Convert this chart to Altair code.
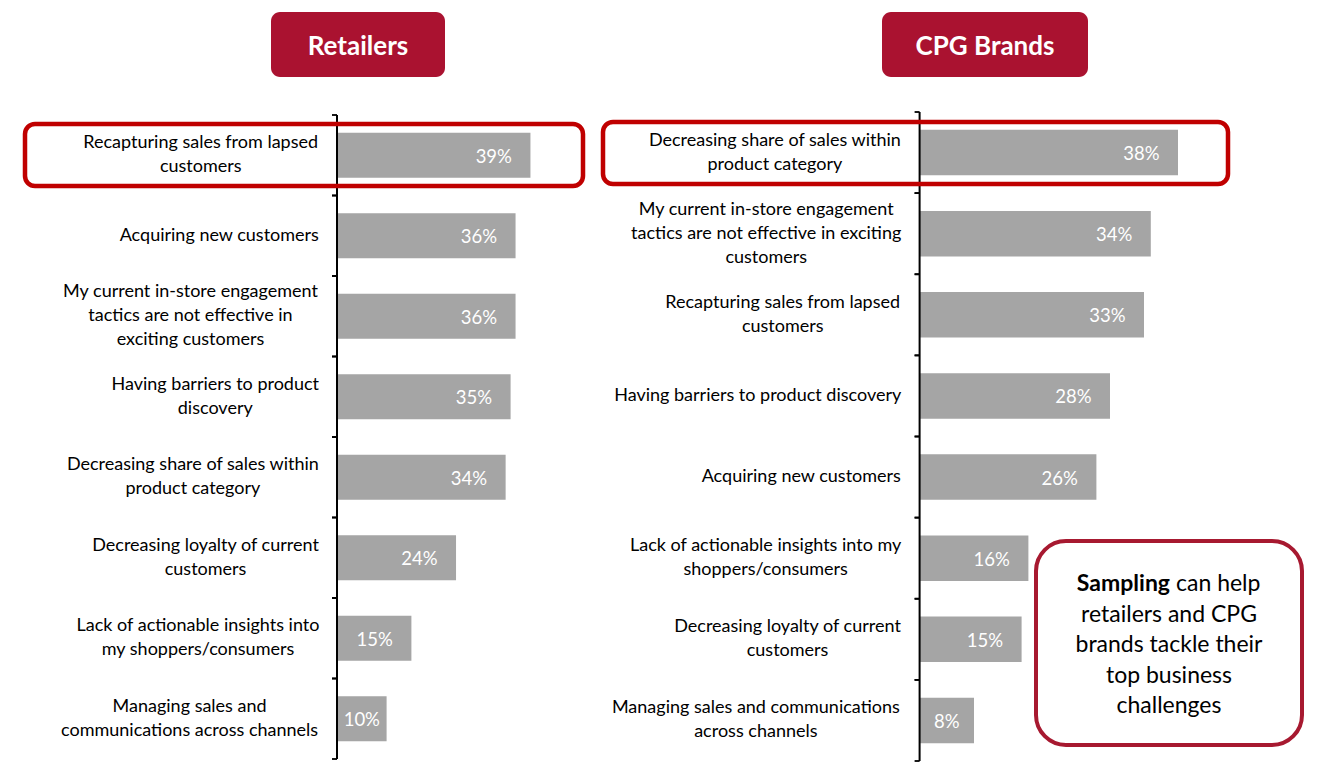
import altair as alt
import pandas as pd

# ---------------- data ----------------
left_categories = [
    "Recapturing sales from lapsed|customers",
    "Acquiring new customers",
    "My current in-store engagement|tactics are not effective in|exciting customers",
    "Having barriers to product|discovery",
    "Decreasing share of sales within|product category",
    "Decreasing loyalty of current|customers",
    "Lack of actionable insights into|my shoppers/consumers",
    "Managing sales and|communications across channels",
]
left_values = [39, 36, 36, 35, 34, 24, 15, 10]

right_categories = [
    "Decreasing share of sales within|product category",
    "My current in-store engagement|tactics are not effective in exciting|customers",
    "Recapturing sales from lapsed|customers",
    "Having barriers to product discovery",
    "Acquiring new customers",
    "Lack of actionable insights into my|shoppers/consumers",
    "Decreasing loyalty of current|customers",
    "Managing sales and communications|across channels",
]
right_values = [38, 34, 33, 28, 26, 16, 15, 8]

panel_titles = ["Retailers", "CPG Brands"]
callout_bold = "Sampling"
callout_first_rest = "can help"
callout_lines = ["retailers and CPG", "brands tackle their", "top business", "challenges"]

# ---------------- style ----------------
FONT = "Lato"
LABEL_SIZE = 18
VALUE_SIZE = 18.5
LINE_H = 24
BAR_COLOR = "#A5A5A5"
TITLE_FILL = "#AA1230"
HILITE = "#C00000"
CALLOUT = "#A71930"

# Calibri advance widths (em) used to find the centre of each label block
CAL = {" ": .226, "a": .479, "b": .525, "c": .423, "d": .525, "e": .498, "f": .305,
       "g": .471, "h": .525, "i": .229, "j": .239, "k": .455, "l": .229, "m": .799,
       "n": .525, "o": .527, "p": .525, "q": .525, "r": .349, "s": .391, "t": .335,
       "u": .525, "v": .452, "w": .715, "x": .433, "y": .453, "z": .395, "A": .579,
       "C": .533, "D": .615, "H": .623, "L": .420, "M": .855, "R": .543, "-": .306,
       "/": .386}


def block_width(label, size=19.4):
    return max(sum(CAL.get(ch, 0.5) for ch in line) for line in label.split("|")) * size


def panel(cats, vals, x0, px_per, y0, y1, label_right):
    df = pd.DataFrame({"cat": cats, "value": vals})
    df["cx"] = [label_right - block_width(c) / 2 for c in cats]
    xs = alt.Scale(domain=[0, 40], range=[x0, x0 + 40 * px_per])
    ys = alt.Scale(domain=cats, range=[y0, y1], paddingInner=0.44, paddingOuter=0.22)
    ys0 = alt.Scale(domain=cats, range=[y0, y1], paddingInner=0, paddingOuter=0)
    Y = alt.Y("cat:N", scale=ys, axis=None)
    base = alt.Chart(df)

    out = []
    out.append(base.mark_bar(color=BAR_COLOR).encode(
        x=alt.X("value:Q", scale=xs, axis=None), y=Y))

    out.append(base.transform_filter(f"datum.value * {px_per} >= 60").transform_calculate(
        pct="datum.value + '%'"
    ).mark_text(align="right", baseline="middle", dx=-18.5, dy=1.5, color="white",
                font=FONT, fontSize=VALUE_SIZE).encode(
        x=alt.X("value:Q", scale=xs, axis=None), y=Y, text="pct:N"))

    out.append(base.transform_filter(f"datum.value * {px_per} < 60").transform_calculate(
        pct="datum.value + '%'", half="datum.value / 2"
    ).mark_text(align="center", baseline="middle", dy=1.5, color="white",
                font=FONT, fontSize=VALUE_SIZE).encode(
        x=alt.X("half:Q", scale=xs, axis=None), y=Y, text="pct:N"))

    # category labels, one layer per line count so each block is centred on its bar
    for n in (1, 2, 3):
        out.append(base.transform_calculate(lines="split(datum.cat, '|')").transform_filter(
            f"length(datum.lines) == {n}").mark_text(
            align="center", baseline="middle", lineHeight=LINE_H, color="#000000",
            font=FONT, fontSize=LABEL_SIZE, dy=-(n - 1) * LINE_H / 2).encode(
            x=alt.X("cx:Q", scale=None), y=Y, text="lines:N"))

    out.append(alt.Chart(pd.DataFrame({"a": [0]})).mark_rule(
        color="black", strokeWidth=2).encode(
        x=alt.value(x0), y=alt.value(y0), y2=alt.value(y1)))

    for bp in (0, 1):
        out.append(base.mark_rule(color="black", strokeWidth=1.8).encode(
            y=alt.Y("cat:N", scale=ys0, axis=None, bandPosition=bp),
            x=alt.value(x0 - 5), x2=alt.value(x0)))
    return out


def box(x, x2, y, y2, **kw):
    return alt.Chart(pd.DataFrame({"a": [0]})).mark_rect(**kw).encode(
        x=alt.value(x), x2=alt.value(x2), y=alt.value(y), y2=alt.value(y2))


def text(t, x, y, **kw):
    return alt.Chart(pd.DataFrame({"t": [t]})).mark_text(font=FONT, **kw).encode(
        x=alt.value(x), y=alt.value(y), text="t:N")


layers = []
layers += panel(left_categories, left_values, 329, 4.96, 107, 751, 311)
layers += panel(right_categories, right_values, 911.6, 6.8, 104, 753, 893)

# panel titles
layers.append(box(263, 437, 4, 69, fill=TITLE_FILL, cornerRadius=9))
layers.append(text(panel_titles[0], 350, 39, fontSize=26, fontWeight="bold",
                   color="white", align="center", baseline="middle"))
layers.append(box(874, 1080, 4, 69, fill=TITLE_FILL, cornerRadius=9))
layers.append(text(panel_titles[1], 977, 39, fontSize=26, fontWeight="bold",
                   color="white", align="center", baseline="middle"))

# highlight boxes
layers.append(box(17, 575, 116, 178, fillOpacity=0, stroke=HILITE, strokeWidth=4.5,
                  cornerRadius=10))
layers.append(box(595, 1220, 114, 176, fillOpacity=0, stroke=HILITE, strokeWidth=4.5,
                  cornerRadius=10))

# callout
layers.append(box(1028, 1294, 533, 737, fillOpacity=0, stroke=CALLOUT, strokeWidth=4,
                  cornerRadius=30))
layers.append(text(callout_bold, 1162, 576, fontSize=23, fontWeight="bold",
                   color="black", align="right", baseline="middle"))
layers.append(text(callout_first_rest, 1168, 576, fontSize=23,
                   color="black", align="left", baseline="middle"))
layers.append(alt.Chart(pd.DataFrame({"t": ["|".join(callout_lines)]})).transform_calculate(
    lines="split(datum.t, '|')").mark_text(
    font=FONT, fontSize=23, color="black", align="center", baseline="middle",
    lineHeight=30.5).encode(x=alt.value(1161), y=alt.value(606.5), text="lines:N"))

chart = alt.layer(*layers).resolve_scale(x="independent", y="independent").properties(
    width=1306, height=761, padding=0,
    autosize=alt.AutoSizeParams(type="none"),
).configure_view(stroke=None)

chart.save("out.html", embed_options={"renderer": "svg", "actions": False})
